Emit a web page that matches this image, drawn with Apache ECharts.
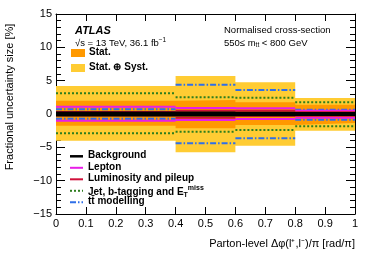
<!DOCTYPE html>
<html><head><meta charset="utf-8">
<script src="https://cdn.jsdelivr.net/npm/echarts@6/dist/echarts.min.js"></script>
<style>html,body{margin:0;padding:0;background:#fff}#c{width:374px;height:268px}</style>
</head><body><div id="c"></div>
<script>
const binEdges = [0, 0.4, 0.6, 0.8, 1.0];
const totalUp   = [4.2, 5.7, 4.75, 2.4];
const totalDown = [-4.0, -5.75, -4.75, -2.5];
const statUp    = [2.0, 2.1, 1.75, 1.4];
const statDown  = [-1.75, -2.15, -1.65, -1.35];
const bkgUp     = [0.2, 0.2, 0.15, 0.1];
const bkgDown   = [-0.2, -0.2, -0.15, -0.1];
const lepUp     = [1.1, 0.9, 0.85, 0.5];
const lepDown   = [-1.0, -0.9, -0.75, -0.55];
const lumiUp    = [0.3, 0.5, 0.5, 0.25];
const lumiDown  = [-0.2, -0.55, -0.25, -0.25];
const jetUp     = [3.1, 2.5, 2.45, 1.75];
const jetDown   = [-2.9, -2.65, -2.4, -1.85];
const ttUp      = [0.7, 4.4, 3.6, 0.65];
const ttDown    = [-0.7, -4.4, -3.65, -0.85];
const legendNames = ['Background', 'Lepton', 'Luminosity and pileup', 'Jet, b-tagging and E{sub|T}{sup|miss}', 'tt\u0304 modelling'];
const bandNames = ['Stat.', 'Stat. \u2295 Syst.'];

const FONT = 'Liberation Sans, Arial, sans-serif';
const cTot = '#FFCC33', cStat = '#FF9900';

function bandStepData(vals) {
  const d = vals.map((v, i) => [binEdges[i], v]);
  d.push([binEdges[binEdges.length - 1], vals[vals.length - 1]]);
  return d;
}
function areaSeries(name, color, vals, z) {
  return {
    type: 'line', name: name, step: 'end', data: bandStepData(vals), symbol: 'none', z: z, silent: true,
    lineStyle: { width: 0, color: color }, areaStyle: { color: color, opacity: 1, origin: 'auto' }
  };
}
function stepData(vals) {
  const d = [];
  vals.forEach((v, i) => { d.push([binEdges[i], v]); d.push([binEdges[i + 1], v]); d.push([binEdges[i + 1], '-']); });
  return d;
}
function lineSeries(name, color, vals, width, type, z) {
  return {
    type: 'line', name: name, data: stepData(vals), symbol: 'none', connectNulls: false, z: z,
    lineStyle: { color: color, width: width, type: type }, silent: true
  };
}
const cBkg = '#000000', cLep = '#E81EE8', cLumi = '#D0103A', cJet = '#2E7D1E', cTt = '#2F6FE8';
const dashJet = [2, 2], dashTt = [6, 2, 1.5, 2];
const styles = [
  { c: cBkg, d: 'solid', w: 2.5 }, { c: cLep, d: 'solid', w: 2 }, { c: cLumi, d: 'solid', w: 2 },
  { c: cJet, d: dashJet, w: 2 }, { c: cTt, d: dashTt, w: 2 }
];

const chart = echarts.init(document.getElementById('c'), null, { renderer: 'canvas' });
const mkLine = () => ({ show: true, onZero: false, lineStyle: { color: '#000', width: 1 } });

const legendGraphics = [];
legendGraphics.push({ type: 'rect', shape: { x: 71, y: 49, width: 14, height: 8 }, style: { fill: cStat } });
legendGraphics.push({ type: 'text', left: 89, top: 47.5, style: { text: bandNames[0], font: 'bold 10px ' + FONT, fill: '#000' } });
legendGraphics.push({ type: 'rect', shape: { x: 71, y: 64, width: 14, height: 8 }, style: { fill: cTot } });
legendGraphics.push({ type: 'text', left: 89, top: 62.5, style: { text: bandNames[1], font: 'bold 10px ' + FONT, fill: '#000' } });
legendNames.forEach((n, i) => {
  const y = 156.3 + i * 11.5;
  const s = styles[i];
  legendGraphics.push({ type: 'line', shape: { x1: 70, y1: y, x2: 83, y2: y },
    style: { stroke: s.c, lineWidth: s.w, lineDash: s.d === 'solid' ? null : s.d } });
  legendGraphics.push({ type: 'text', left: 88, top: y - 6,
    style: { text: n, font: 'bold 10px ' + FONT, fill: '#000',
      rich: { sub: { fontSize: 7, fontWeight: 'bold', fontFamily: FONT, verticalAlign: 'bottom', padding: [7, 0, 0, 0] },
              sup: { fontSize: 7, fontWeight: 'bold', fontFamily: FONT, verticalAlign: 'top', padding: [0, 0, 7, 0] } } } });
});

chart.setOption({
  animation: false,
  grid: { left: 56, right: 19, top: 14, bottom: 54 },
  xAxis: [
    { type: 'value', min: 0, max: 1, interval: 0.1, position: 'bottom', axisLine: mkLine(),
      axisTick: { inside: true, length: 7, lineStyle: { color: '#000' } },
      axisLabel: { fontFamily: FONT, fontSize: 11, color: '#000', margin: 4 },
      splitLine: { show: false } },
    { type: 'value', min: 0, max: 1, interval: 0.1, position: 'top', axisLine: mkLine(),
      axisTick: { inside: true, length: 7, lineStyle: { color: '#000' } },
      axisLabel: { show: false }, splitLine: { show: false } }
  ],
  yAxis: [
    { type: 'value', min: -15, max: 15, interval: 5, position: 'left', axisLine: mkLine(),
      axisTick: { inside: true, length: 9, lineStyle: { color: '#000' } },
      minorTick: { show: true, splitNumber: 5, length: 5, lineStyle: { color: '#000' } },
      axisLabel: { fontFamily: FONT, fontSize: 11, color: '#000', margin: 4,
        formatter: v => (v < 0 ? '\u2212' + Math.abs(v) : '' + v) },
      splitLine: { show: false } },
    { type: 'value', min: -15, max: 15, interval: 5, position: 'right', axisLine: mkLine(),
      axisTick: { inside: true, length: 9, lineStyle: { color: '#000' } },
      minorTick: { show: true, splitNumber: 5, length: 5, lineStyle: { color: '#000' } },
      axisLabel: { show: false }, splitLine: { show: false } }
  ],
  series: [
    areaSeries(bandNames[1], cTot, totalUp, 1), areaSeries(bandNames[1], cTot, totalDown, 1),
    areaSeries(bandNames[0], cStat, statUp, 2), areaSeries(bandNames[0], cStat, statDown, 2),
    lineSeries(legendNames[3], cJet, jetUp, 2, dashJet, 3), lineSeries(legendNames[3], cJet, jetDown, 2, dashJet, 3),
    lineSeries(legendNames[4], cTt, ttUp, 2, dashTt, 4), lineSeries(legendNames[4], cTt, ttDown, 2, dashTt, 4),
    lineSeries(legendNames[1], cLep, lepUp, 2, 'solid', 5), lineSeries(legendNames[1], cLep, lepDown, 2, 'solid', 5),
    lineSeries(legendNames[2], cLumi, lumiUp, 2, 'solid', 6), lineSeries(legendNames[2], cLumi, lumiDown, 2, 'solid', 6),
    lineSeries(legendNames[0], cBkg, bkgUp, 2.5, 'solid', 7), lineSeries(legendNames[0], cBkg, bkgDown, 2.5, 'solid', 7)
  ],
  graphic: legendGraphics.concat([
    { type: 'text', left: 75, top: 25, style: { text: 'ATLAS', font: 'italic bold 11px ' + FONT, fill: '#000' } },
    { type: 'text', left: 75, top: 37, style: { text: '\u221As = 13 TeV, 36.1 fb{sup|\u22121}', font: '9.5px ' + FONT, fill: '#000',
        rich: { sup: { fontSize: 6.5, fontFamily: FONT, verticalAlign: 'top', padding: [0, 0, 5, 0] } } } },
    { type: 'text', left: 224, top: 25, style: { text: 'Normalised cross-section', font: '9.5px ' + FONT, fill: '#000' } },
    { type: 'text', left: 224, top: 38, style: { text: '550\u2264 m{sub|tt} < 800 GeV', font: '9.5px ' + FONT, fill: '#000',
        rich: { sub: { fontSize: 6.5, fontFamily: FONT, verticalAlign: 'bottom', padding: [5, 0, 0, 0] } } } },
    { type: 'text', x: 10, y: 97, rotation: Math.PI / 2,
      style: { text: 'Fractional uncertainty size [%]', font: '11px ' + FONT, fill: '#000', align: 'center', verticalAlign: 'middle' } },
    { type: 'text', right: 19, top: 238,
      style: { text: 'Parton-level \u0394\u03C6(l\u207A,l\u207B)/\u03C0 [rad/\u03C0]', font: '11px ' + FONT, fill: '#000' } }
  ])
});
</script></body></html>
